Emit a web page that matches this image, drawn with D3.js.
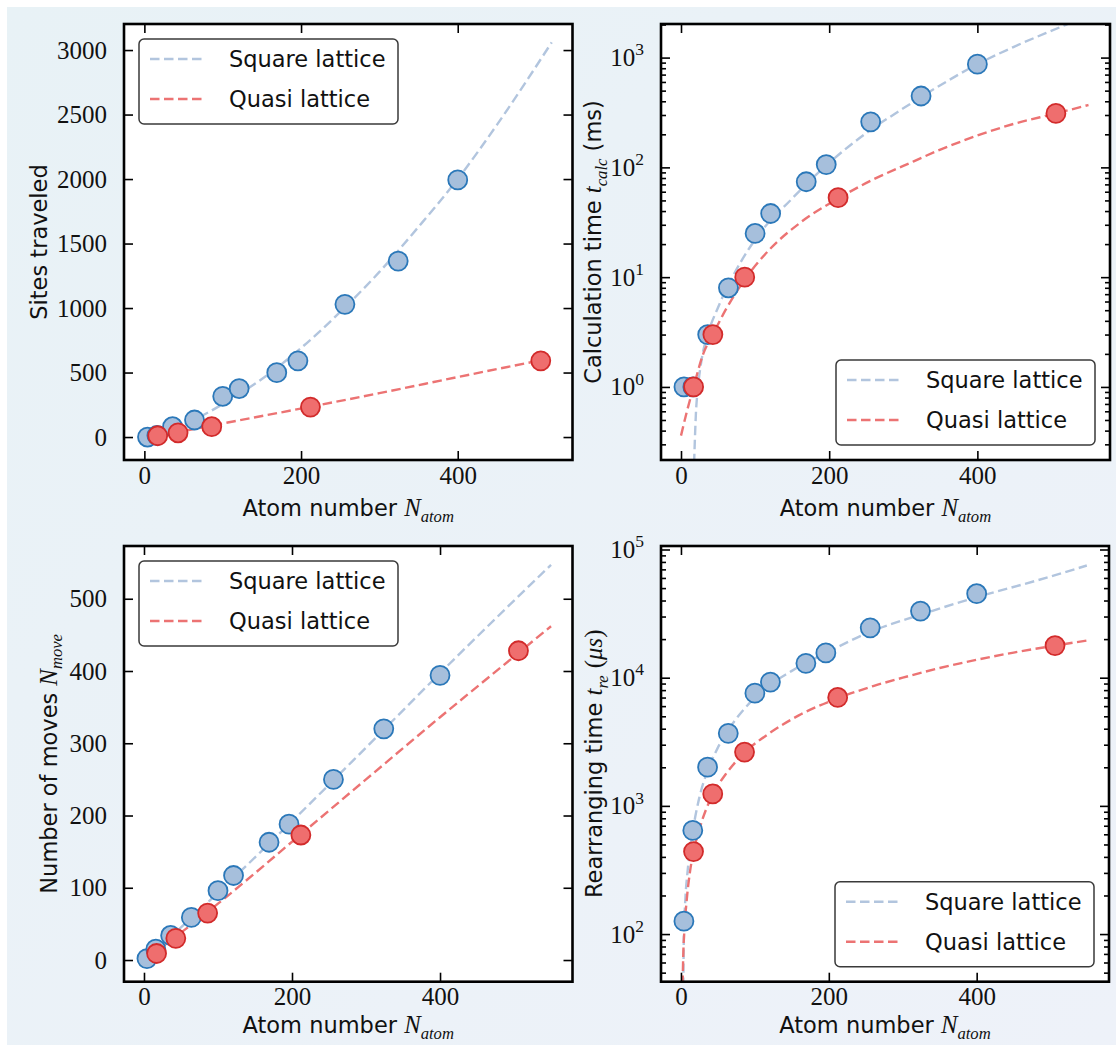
<!DOCTYPE html>
<html>
<head>
<meta charset="utf-8">
<script src="https://cdn.jsdelivr.net/npm/d3@7"></script>
<style>
  html, body { margin: 0; padding: 0; background: #fff; }
  svg { display: block; }
  text { white-space: pre; }
</style>
</head>
<body>
<svg id="chart" width="1116" height="1045"></svg>
<script>
// ---- data ----
const squareN = [4, 16, 36, 64, 100, 121, 169, 196, 256, 324, 400];
const quasiN = [17, 43, 86, 212, 506];

const sitesSquare = [0, 12, 80, 132, 316, 376, 499, 591, 1029, 1364, 1993];
const sitesQuasi = [10, 33, 80, 232, 591];
const calcSquare = [1.0, 1.0, 3.0, 8.0, 25, 38, 74, 106, 260, 447, 871];
const calcQuasi = [1.0, 3.0, 10, 53, 310];
const movesSquare = [2, 15, 34, 59, 96, 117, 163, 188, 250, 320, 394];
const movesQuasi = [9, 30, 65, 173, 428];
const rearrSquare = [126, 644, 2005, 3680, 7570, 9240, 12940, 15600, 24500, 33100, 45200];
const rearrQuasi = [440, 1240, 2630, 7010, 17800];

// fitted (dashed) curves, sampled by eye
const fitSitesSquareN = [4, 50, 100, 150, 200, 250, 300, 350, 400, 450, 520];
const fitSitesSquareV = [0, 95, 255, 450, 690, 970, 1280, 1630, 2000, 2420, 3060];
const fitSitesQuasiN = [17, 100, 212, 300, 400, 506];
const fitSitesQuasiV = [8, 105, 235, 340, 465, 595];

const fitCalcSquareN = [17.1, 18.5, 20, 23, 28, 36, 50, 64, 100, 150, 200, 250, 300, 350, 400, 450, 520, 550];
const fitCalcSquareV = [0.15, 0.3, 0.55, 1.0, 1.8, 3.0, 5.3, 8.5, 22, 52, 110, 205, 345, 560, 870, 1260, 2000, 2450];
const fitCalcQuasiN = [0, 8, 17, 30, 43, 60, 86, 120, 160, 212, 260, 300, 350, 400, 450, 506, 550];
const fitCalcQuasiV = [0.36, 0.6, 1.0, 2.0, 3.0, 5.0, 9.5, 18, 31, 52, 78, 103, 145, 195, 250, 310, 370];

const fitMovesSquareN = [4, 100, 200, 300, 400, 550];
const fitMovesSquareV = [2, 93, 192, 294, 397, 547];
const fitMovesQuasiN = [4, 100, 212, 300, 400, 506, 550];
const fitMovesQuasiV = [2, 78, 174, 250, 336, 425, 462];

const fitRearrSquareN = [3.0, 4, 6, 9, 12, 16, 25, 36, 50, 64, 100, 150, 200, 256, 324, 400, 480, 549];
const fitRearrSquareV = [30, 100, 190, 310, 450, 640, 1170, 1880, 2850, 3900, 7000, 11300, 16000, 22800, 31000, 42500, 57000, 75000];
const fitRearrQuasiN = [2.2, 3, 5, 8, 12, 17, 25, 43, 60, 86, 120, 160, 212, 260, 300, 350, 400, 450, 506, 549];
const fitRearrQuasiV = [40, 65, 115, 190, 300, 440, 660, 1230, 1750, 2600, 3700, 5100, 6900, 8600, 10000, 11900, 13800, 15700, 17800, 19500];

const xTicks = [0, 200, 400];
const sitesTicks = [0, 500, 1000, 1500, 2000, 2500, 3000];
const movesTicks = [0, 100, 200, 300, 400, 500];
const calcTicks = [1, 10, 100, 1000];
const rearrTicks = [100, 1000, 10000, 100000];
const legendLabels = ["Square lattice", "Quasi lattice"];

// ---- style ----
const sans = "DejaVu Sans";
const serif = "Liberation Serif";
const blueLine = "#b2c5de", redLine = "#ec7373";
const blueFill = "#a6bfdc", blueEdge = "#2b78b9";
const redFill = "#ef6e6e", redEdge = "#d22b2b";

const svg = d3.select("#chart");
const defs = svg.append("defs");
const grad = defs.append("linearGradient").attr("id", "bg")
  .attr("x1", 0).attr("y1", 0).attr("x2", 1).attr("y2", 1);
grad.append("stop").attr("offset", 0).attr("stop-color", "#e8f2f6");
grad.append("stop").attr("offset", 1).attr("stop-color", "#eef2f9");
svg.append("rect").attr("x", 7).attr("y", 7).attr("width", 1109).attr("height", 1038)
  .attr("fill", "url(#bg)");

function richText(sel, parts, size) {
  parts.forEach((p, i) => {
    const prevSub = i > 0 && parts[i - 1].sub;
    const ts = sel.append("tspan").text(p.t)
      .attr("font-family", p.math || p.rm ? serif : sans)
      .attr("font-style", p.math ? "italic" : "normal")
      .attr("font-size", p.sub ? size * 0.74 : (p.math || p.rm) ? size * 1.1 : size);
    if (p.sub) ts.attr("dy", size * 0.26);
    else if (prevSub) ts.attr("dy", -size * 0.26);
  });
}

const xLabel = [{ t: "Atom number " }, { t: "N", math: true }, { t: "atom", math: true, sub: true }];

const panels = [
  {
    left: 124, top: 24, right: 572.5, bottom: 460,
    xDomain: [-26, 546.5], yDomain: [-178, 3202], log: false, yTicks: sitesTicks,
    ylabel: [{ t: "Sites traveled" }], ylabelX: 47, legend: "tl", xlabelY: 56,
    sq: sitesSquare, qu: sitesQuasi,
    fits: [[fitSitesSquareN, fitSitesSquareV, blueLine], [fitSitesQuasiN, fitSitesQuasiV, redLine]]
  },
  {
    left: 661, top: 24, right: 1110, bottom: 460,
    xDomain: [-27, 579], yDomain: [0.216, 2023], log: true, yTicks: calcTicks,
    ylabel: [{ t: "Calculation time " }, { t: "t", math: true }, { t: "calc", math: true, sub: true }, { t: " (ms)" }],
    ylabelX: 601, legend: "br", xlabelY: 56,
    sq: calcSquare, qu: calcQuasi,
    fits: [[fitCalcSquareN, fitCalcSquareV, blueLine], [fitCalcQuasiN, fitCalcQuasiV, redLine]]
  },
  {
    left: 124, top: 546, right: 572.5, bottom: 981.7,
    xDomain: [-27, 579], yDomain: [-30, 573], log: false, yTicks: movesTicks,
    ylabel: [{ t: "Number of moves " }, { t: "N", math: true }, { t: "move", math: true, sub: true }],
    ylabelX: 56.5, legend: "tl", xlabelY: 51,
    sq: movesSquare, qu: movesQuasi,
    fits: [[fitMovesSquareN, fitMovesSquareV, blueLine], [fitMovesQuasiN, fitMovesQuasiV, redLine]]
  },
  {
    left: 661, top: 546, right: 1109, bottom: 981.7,
    xDomain: [-27, 579], yDomain: [42.5, 106500], log: true, yTicks: rearrTicks,
    ylabel: [{ t: "Rearranging time " }, { t: "t", math: true }, { t: "re", math: true, sub: true },
      { t: " " }, { t: "(", rm: true }, { t: "μs", math: true }, { t: ")", rm: true }],
    ylabelX: 602, legend: "br", xlabelY: 51,
    sq: rearrSquare, qu: rearrQuasi,
    fits: [[fitRearrSquareN, fitRearrSquareV, blueLine], [fitRearrQuasiN, fitRearrQuasiV, redLine]]
  }
];

panels.forEach((p, pi) => {
  const w = p.right - p.left, h = p.bottom - p.top;
  const g = svg.append("g").attr("transform", `translate(${p.left},${p.top})`);
  const x = d3.scaleLinear().domain(p.xDomain).range([0, w]);
  const y = (p.log ? d3.scaleLog() : d3.scaleLinear()).domain(p.yDomain).range([h, 0]);

  g.append("rect").attr("width", w).attr("height", h).attr("fill", "#fff");

  defs.append("clipPath").attr("id", "clip" + pi)
    .append("rect").attr("width", w).attr("height", h);

  // dashed fits
  const line = d3.line().x(d => x(d[0])).y(d => y(d[1])).curve(d3.curveMonotoneX);
  const plot = g.append("g").attr("clip-path", `url(#clip${pi})`);
  p.fits.forEach(([ns, vs, col]) => {
    plot.append("path")
      .attr("d", line(ns.map((n, i) => [n, vs[i]])))
      .attr("fill", "none").attr("stroke", col)
      .attr("stroke-width", 2.4).attr("stroke-dasharray", "9.5,4.5");
  });

  // markers
  plot.selectAll(".sq").data(squareN.map((n, i) => [n, p.sq[i]])).join("circle")
    .attr("cx", d => x(d[0])).attr("cy", d => y(d[1])).attr("r", 9.5)
    .attr("fill", blueFill).attr("stroke", blueEdge).attr("stroke-width", 1.8);
  plot.selectAll(".qu").data(quasiN.map((n, i) => [n, p.qu[i]])).join("circle")
    .attr("cx", d => x(d[0])).attr("cy", d => y(d[1])).attr("r", 9.5)
    .attr("fill", redFill).attr("stroke", redEdge).attr("stroke-width", 1.8);

  // axes, ticks pointing in on all four sides
  const styleAxis = sel => {
    sel.select(".domain").remove();
    sel.selectAll(".tick line").attr("stroke", "#000").attr("stroke-width", 1.6);
    sel.selectAll(".tick text").attr("font-family", serif).attr("font-size", 25).attr("fill", "#111");
  };
  g.append("g").attr("transform", `translate(0,${h})`)
    .call(d3.axisBottom(x).tickValues(xTicks).tickSize(-9).tickPadding(6).tickFormat(d3.format("d")))
    .call(styleAxis);
  g.append("g")
    .call(d3.axisTop(x).tickValues(xTicks).tickSize(-9).tickFormat(""))
    .call(styleAxis);

  const yl = g.append("g")
    .call(d3.axisLeft(y).tickValues(p.yTicks).tickSize(-9).tickPadding(17)
      .tickFormat(p.log ? "" : d3.format("d")))
    .call(styleAxis);
  g.append("g").attr("transform", `translate(${w},0)`)
    .call(d3.axisRight(y).tickValues(p.yTicks).tickSize(-9).tickFormat(""))
    .call(styleAxis);

  if (p.log) {
    yl.selectAll(".tick text").each(function (d) {
      const t = d3.select(this);
      t.append("tspan").text("10");
      t.append("tspan").text(String(Math.round(Math.log10(d))))
        .attr("font-size", 17.5).attr("dy", "-0.62em");
    });
    const minor = y.ticks().filter(v => !p.yTicks.includes(v));
    g.append("g")
      .call(d3.axisLeft(y).tickValues(minor).tickSize(-5).tickFormat(""))
      .call(styleAxis);
    g.append("g").attr("transform", `translate(${w},0)`)
      .call(d3.axisRight(y).tickValues(minor).tickSize(-5).tickFormat(""))
      .call(styleAxis);
  }

  // frame
  g.append("rect").attr("width", w).attr("height", h)
    .attr("fill", "none").attr("stroke", "#000").attr("stroke-width", 2.6);

  // axis labels
  const xl = g.append("text").attr("x", w / 2).attr("y", h + p.xlabelY)
    .attr("text-anchor", "middle").attr("fill", "#111");
  richText(xl, xLabel, 22.5);
  const ylab = svg.append("text")
    .attr("transform", `translate(${p.ylabelX},${p.top + h / 2}) rotate(-90)`)
    .attr("text-anchor", "middle").attr("fill", "#111");
  richText(ylab, p.ylabel, 22.5);

  // legend
  const lw = 259, lh = 85;
  const lx = p.legend === "tl" ? 15 : w - 15 - lw;
  const ly = p.legend === "tl" ? 15 : h - 15 - lh;
  const lg = g.append("g").attr("transform", `translate(${lx},${ly})`);
  lg.append("rect").attr("width", lw).attr("height", lh).attr("rx", 5)
    .attr("fill", "#fff").attr("stroke", "#3a3a3a").attr("stroke-width", 1.5);
  const legendColors = [blueLine, redLine];
  legendLabels.forEach((lab, i) => {
    const yy = 20 + i * 40;
    lg.append("line").attr("x1", 11).attr("x2", 67).attr("y1", yy).attr("y2", yy)
      .attr("stroke", legendColors[i]).attr("stroke-width", 2.4).attr("stroke-dasharray", "9.5,4.5");
    lg.append("text").attr("x", 90).attr("y", yy).attr("dy", "0.36em")
      .attr("font-family", sans).attr("font-size", 22.5).attr("fill", "#111").text(lab);
  });
});
</script>
</body>
</html>
